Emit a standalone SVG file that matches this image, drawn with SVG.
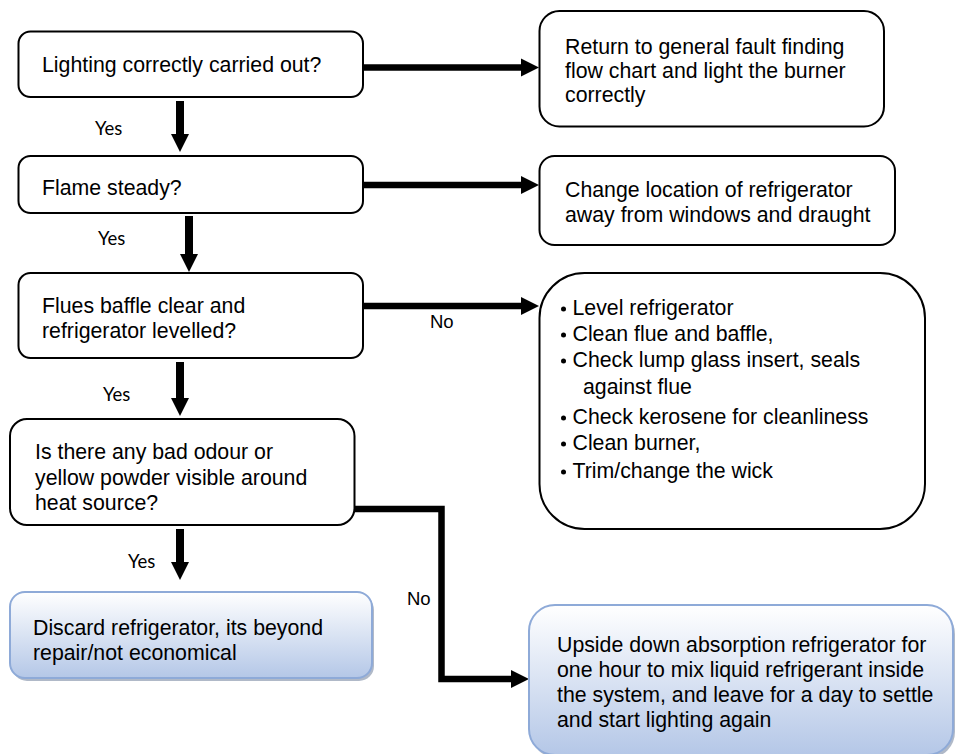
<svg xmlns="http://www.w3.org/2000/svg" width="955" height="754" viewBox="0 0 955 754">
  <defs>
    <style>
      .box { fill: #ffffff; stroke: #000000; stroke-width: 2; }
      .soft { stroke: #8eaad8; stroke-width: 2; }
      .txt { font-family: "Liberation Sans", Arial, sans-serif; font-size: 21.3px; fill: #000000; }
      .yes { font-family: Lato, "Open Sans", sans-serif; font-size: 18.5px; fill: #000000; }
      .no { font-family: "Liberation Sans", Arial, sans-serif; font-size: 18.5px; fill: #000000; }
      .link { fill: none; stroke: #000000; stroke-linejoin: miter; }
      .h { stroke-width: 6.5; }
      .v { stroke-width: 8; }
    </style>
    <marker id="head" markerUnits="userSpaceOnUse" markerWidth="18" markerHeight="20" refX="0" refY="10" orient="auto">
      <path d="M0,1 L18,10 L0,19 Z" fill="#000000"/>
    </marker>
    <linearGradient id="blueFill" x1="0" y1="0" x2="0" y2="1">
      <stop offset="0" stop-color="#ffffff"/>
      <stop offset="1" stop-color="#b4c7e7"/>
    </linearGradient>
  </defs>

  <rect width="955" height="754" fill="#ffffff"/>

  <!-- connectors -->
  <g id="connectors">
    <path class="link h" d="M363,67.5 H521" marker-end="url(#head)"/>
    <path class="link h" d="M363,185 H521" marker-end="url(#head)"/>
    <path class="link h" d="M363,306 H521" marker-end="url(#head)"/>
    <path class="link v" d="M180,101 V134" marker-end="url(#head)"/>
    <path class="link v" d="M189,216 V254" marker-end="url(#head)"/>
    <path class="link v" d="M180,362 V398" marker-end="url(#head)"/>
    <path class="link v" d="M180,529 V562" marker-end="url(#head)"/>
    <path class="link h" d="M355,509 H441.5 V679 H511" marker-end="url(#head)"/>
    <text class="yes" x="95" y="135">Yes</text>
    <text class="yes" x="98" y="245">Yes</text>
    <text class="yes" x="103" y="401">Yes</text>
    <text class="yes" x="128" y="568">Yes</text>
    <text class="no" x="430" y="328">No</text>
    <text class="no" x="407" y="605">No</text>
  </g>

  <!-- decision: lighting -->
  <g id="q-lighting">
    <rect class="box" x="18.5" y="31.5" width="344.5" height="65.5" rx="12"/>
    <text class="txt" x="42" y="72">Lighting correctly carried out?</text>
  </g>

  <!-- decision: flame -->
  <g id="q-flame">
    <rect class="box" x="18.5" y="156" width="344.5" height="57" rx="12"/>
    <text class="txt" x="42" y="195">Flame steady?</text>
  </g>

  <!-- decision: flue -->
  <g id="q-flue">
    <rect class="box" x="18.5" y="273" width="344.5" height="85" rx="12"/>
    <text class="txt" x="42" y="313">Flues baffle clear and</text>
    <text class="txt" x="42" y="338">refrigerator levelled?</text>
  </g>

  <!-- decision: odour -->
  <g id="q-odour">
    <rect class="box" x="10" y="419" width="344.5" height="106" rx="17"/>
    <text class="txt" x="35" y="459">Is there any bad odour or</text>
    <text class="txt" x="35" y="485">yellow powder visible around</text>
    <text class="txt" x="35" y="510">heat source?</text>
  </g>

  <!-- action: return -->
  <g id="a-return">
    <rect class="box" x="539.5" y="11" width="344.5" height="115.5" rx="20"/>
    <text class="txt" x="565" y="54">Return to general fault finding</text>
    <text class="txt" x="565" y="78">flow chart and light the burner</text>
    <text class="txt" x="565" y="102">correctly</text>
  </g>

  <!-- action: relocate -->
  <g id="a-relocate">
    <rect class="box" x="539.5" y="156" width="355.5" height="89" rx="15"/>
    <text class="txt" x="565" y="197">Change location of refrigerator</text>
    <text class="txt" x="565" y="222">away from windows and draught</text>
  </g>

  <!-- action: maintenance list -->
  <g id="a-maintain">
    <rect class="box" x="539.5" y="273" width="385.5" height="256" rx="45"/>
    <g class="txt">
      <circle cx="563.5" cy="309" r="2.5"/>
      <text x="572.5" y="315">Level refrigerator</text>
      <circle cx="563.5" cy="335" r="2.5"/>
      <text x="572.5" y="341">Clean flue and baffle,</text>
      <circle cx="563.5" cy="361" r="2.5"/>
      <text x="572.5" y="367">Check lump glass insert, seals</text>
      <text x="583" y="394">against flue</text>
      <circle cx="563.5" cy="418" r="2.5"/>
      <text x="572.5" y="424">Check kerosene for cleanliness</text>
      <circle cx="563.5" cy="444" r="2.5"/>
      <text x="572.5" y="450">Clean burner,</text>
      <circle cx="563.5" cy="472" r="2.5"/>
      <text x="572.5" y="478">Trim/change the wick</text>
    </g>
  </g>

  <!-- outcome: discard -->
  <g id="o-discard">
    <rect x="12" y="595" width="362" height="86" rx="15" fill="#8e9bb0" opacity="0.7"/>
    <rect class="soft" x="10" y="592" width="362" height="86" rx="15" fill="url(#blueFill)"/>
    <text class="txt" x="33" y="635">Discard refrigerator, its beyond</text>
    <text class="txt" x="33" y="660">repair/not economical</text>
  </g>

  <!-- outcome: invert -->
  <g id="o-invert">
    <rect x="531" y="608" width="424" height="150" rx="26" fill="#8e9bb0" opacity="0.7"/>
    <rect class="soft" x="529" y="605" width="424" height="150" rx="26" fill="url(#blueFill)"/>
    <text class="txt" x="557" y="652">Upside down absorption refrigerator for</text>
    <text class="txt" x="557" y="677">one hour to mix liquid refrigerant inside</text>
    <text class="txt" x="557" y="702">the system, and leave for a day to settle</text>
    <text class="txt" x="557" y="727">and start lighting again</text>
  </g>
</svg>
